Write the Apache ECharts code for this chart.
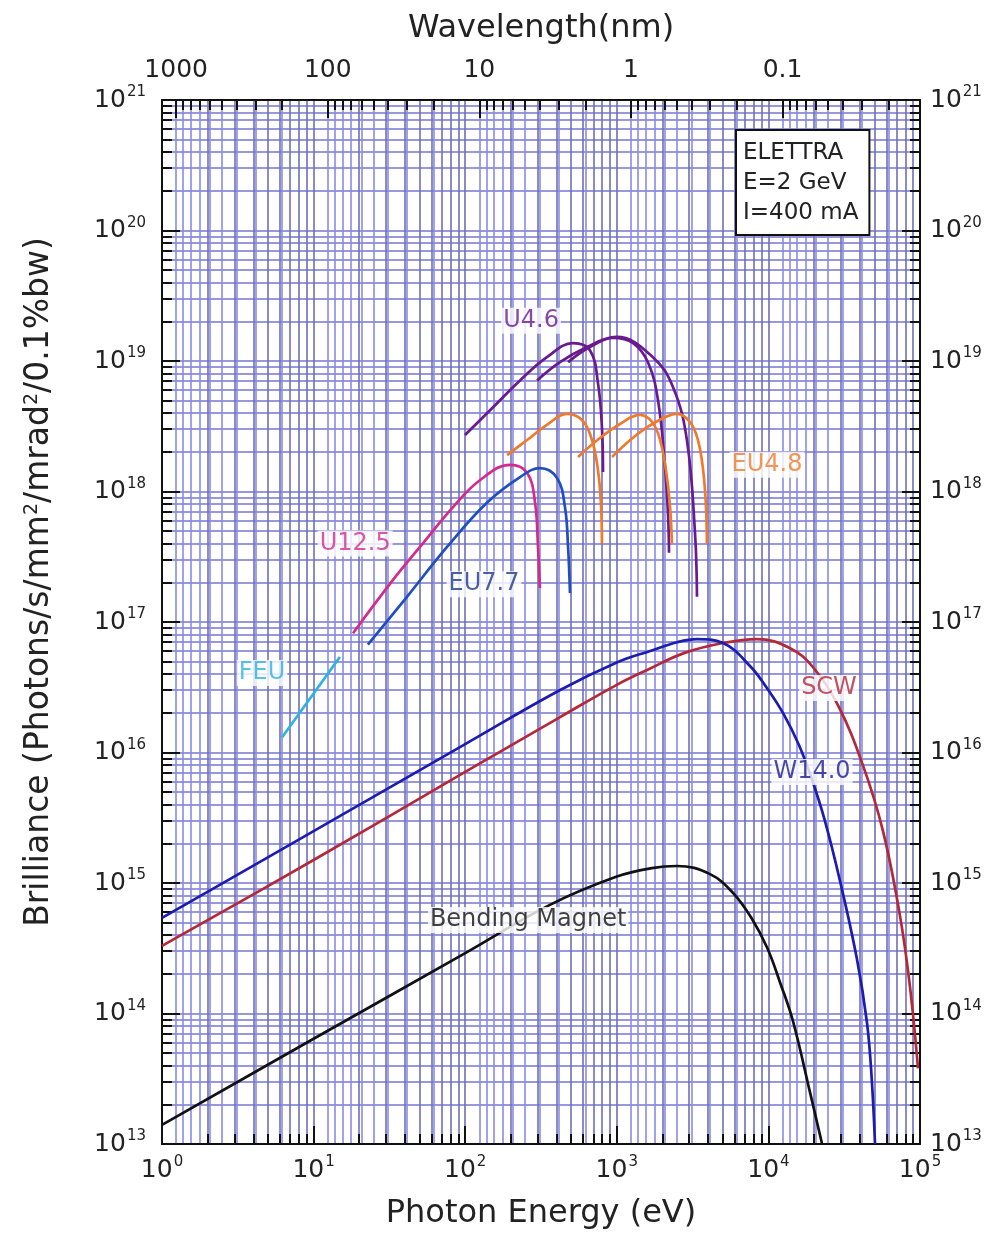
<!DOCTYPE html>
<html>
<head>
<meta charset="utf-8">
<title>ELETTRA brilliance</title>
<script src="https://cdn.jsdelivr.net/npm/echarts@6/dist/echarts.min.js"></script>
<style>
html, body { margin: 0; padding: 0; background: #fff; }
#main { width: 997px; height: 1242px; }
</style>
</head>
<body>
<div id="main"></div>
<script>
// photon energy (eV), brilliance
var bendingMagnet = [[1, 1.4e13], [10, 6.4e13], [100, 2.9e14], [362, 6.8e14], [1000, 1.12e15], [1700, 1.3e15], [2500, 1.35e15], [4120, 1.17e15], [5840, 8.4e14], [7800, 5.3e14], [9800, 3.2e14], [12000, 1.7e14], [14500, 8.8e13], [18800, 2.5e13], [22600, 1.0e13]];
var w140 = [[1, 5.4e14], [10, 2.5e15], [100, 1.16e16], [420, 3.0e16], [1000, 4.9e16], [1660, 6.0e16], [2500, 7.0e16], [3380, 7.4e16], [5020, 6.9e16], [7560, 4.6e16], [10000, 3.0e16], [12500, 2.0e16], [15850, 1.15e16], [19300, 6.3e15], [23400, 3.1e15], [29600, 1.05e15], [38400, 2.6e14], [44700, 8.5e13], [48000, 3.2e13], [50500, 1.0e13]];
var scw = [[1, 3.3e14], [10, 1.5e15], [100, 7.1e15], [420, 1.86e16], [1000, 3.3e16], [1660, 4.4e16], [2800, 5.8e16], [5020, 6.9e16], [8400, 7.4e16], [13900, 6.3e16], [19700, 4.5e16], [28800, 2.3e16], [42000, 8.0e15], [57000, 2.5e15], [73800, 5.6e14], [85900, 1.6e14], [97000, 3.8e13]];
var feu = [[6.2, 1.31e16], [14.9, 5.4e16]];
var u125 = [[18.2, 8.2e16], [33.4, 2.1e17], [50.3, 3.76e17], [83.1, 7.6e17], [125, 1.22e18], [198, 1.6e18], [256, 1.39e18], [289, 8.2e17], [302, 3.76e17], [311, 1.82e17]];
var eu77 = [[22.8, 6.7e16], [41.3, 1.56e17], [75.9, 3.76e17], [139, 8.2e17], [230, 1.29e18], [311, 1.51e18], [403, 1.27e18], [455, 7.6e17], [477, 3.76e17], [491, 1.67e17]];
var u46a = [[99.7, 2.71e18], [152, 4.4e18], [230, 7.1e18], [346, 1.07e19], [514, 1.37e19], [665, 1.21e19], [751, 6.8e18], [798, 3.1e18], [811, 1.41e18]];
var u46b = [[298, 7.1e18], [422, 9.8e18], [636, 1.28e19], [944, 1.5e19], [1280, 1.37e19], [1610, 9.7e18], [1870, 5.0e18], [2080, 1.54e18], [2180, 6.4e17], [2210, 3.4e17]];
var u46c = [[477, 9.8e18], [665, 1.28e19], [1000, 1.53e19], [1730, 1.07e19], [2350, 6.3e18], [2900, 2.48e18], [3280, 4.8e17], [3380, 1.56e17]];
var eu48a = [[189, 1.9e18], [256, 2.48e18], [346, 3.24e18], [469, 3.93e18], [589, 3.53e18], [686, 2.48e18], [751, 1.46e18], [787, 7.9e17], [798, 4.0e17]];
var eu48b = [[555, 1.84e18], [774, 2.57e18], [1050, 3.29e18], [1420, 3.86e18], [1710, 3.41e18], [1930, 2.48e18], [2110, 1.46e18], [2240, 7.9e17], [2310, 4.0e17]];
var eu48c = [[930, 1.84e18], [1320, 2.66e18], [1810, 3.41e18], [2500, 3.93e18], [3040, 3.41e18], [3430, 2.48e18], [3710, 1.46e18], [3870, 7.9e17], [3930, 4.0e17]];

// where each curve name sits, in eV / brilliance
var curveLabels = [
  ['U4.6', 272, 2.03e19], ['EU4.8', 9790, 1.6e18], ['U12.5', 18.8, 4.0e17], ['EU7.7', 133, 1.95e17],
  ['FEU', 4.57, 4.06e16], ['SCW', 25100, 3.12e16], ['W14.0', 19400, 7.1e15], ['Bending Magnet', 260, 5.2e14]
];

// axes
var energyDecades = [1, 10, 100, 1000, 10000, 100000];
var wavelengthDecades = [1000, 100, 10, 1, 0.1];
var brillianceDecades = [1e13, 1e14, 1e15, 1e16, 1e17, 1e18, 1e19, 1e20, 1e21];
var minorSteps = [2, 3, 4, 5, 6, 7, 8, 9];
var hc = 1239.84; // eV*nm

var colors = {
  'Bending Magnet': '#111111', 'W14.0': '#1c1cb0', 'SCW': '#b42838', 'FEU': '#2eb2e2',
  'U12.5': '#d42a8e', 'EU7.7': '#1f4fbf', 'U4.6': '#6a1a8e', 'EU4.8': '#f07a2c'
};
var labelColors = { 'W14.0': '#1c1c90', 'EU7.7': '#1f3a8a', 'Bending Magnet': '#111111' };

function minors(bases, lo, hi) {
  var out = [];
  bases.forEach(function (b) {
    minorSteps.forEach(function (m) {
      var v = Number((b * m).toPrecision(3));
      if (v > lo && v < hi) out.push(v);
    });
  });
  return out;
}
var energyMinor = minors([1, 10, 100, 1000, 10000], 1, 1e5);
var lamMin = hc / 1e5, lamMax = hc / 1;
var wavelengthMinor = minors([0.01, 0.1, 1, 10, 100, 1000], lamMin, lamMax);
var brillianceMinor = minors(brillianceDecades.slice(0, 8), 1e13, 1e21);
// keep the top decade a hair inside the extent so its label survives rounding
var brillianceLabelValues = brillianceDecades.map(function (v, i, a) {
  return i === a.length - 1 ? v * 0.99999 : v;
});

var FONT = 'DejaVu Sans';
var supRich = {
  b: { fontSize: 25, fontFamily: FONT, color: '#222', lineHeight: 30 },
  s: { fontSize: 15, fontFamily: FONT, color: '#222', verticalAlign: 'top', lineHeight: 15, padding: [0, 0, 9, 1] }
};
function pow10(v) {
  return '{b|10}{s|' + Math.round(Math.log10(v)) + '}';
}
var frame = { show: true, lineStyle: { color: '#111', width: 2 } };
var noLine = { show: false };
var grid1 = '#7070b4', grid2 = '#8a8ae8', grid3 = '#7676d0';

function axis(o) {
  var a = {
    type: 'log', gridIndex: 0, axisLine: noLine,
    axisLabel: { show: false }, splitLine: { show: false }
  };
  for (var k in o) a[k] = o[k];
  return a;
}
function ticks(values, len) {
  return { show: true, inside: true, length: len, customValues: values, lineStyle: { color: '#111', width: 2 } };
}
function split(color, w) {
  return { show: true, lineStyle: { color: color, width: w } };
}

var chart = echarts.init(document.getElementById('main'));

function curve(name, data) {
  return {
    name: name, type: 'line', data: data, xAxisIndex: 0, yAxisIndex: 0,
    symbol: 'none', smooth: 0.4, silent: true, z: 3,
    lineStyle: { color: colors[name], width: 2.7 }, itemStyle: { color: colors[name] }
  };
}

var option = {
  animation: false,
  backgroundColor: '#fff',
  grid: { left: 162, top: 100, width: 758, height: 1044, outerBoundsMode: 'none' },
  xAxis: [
    axis({
      min: 1, max: 1e5, position: 'bottom', axisLine: frame,
      axisTick: ticks(energyDecades, 18),
      axisLabel: { show: true, customValues: energyDecades, formatter: pow10, rich: supRich, margin: 11 },
      splitLine: split(grid1, 1.6),
      name: 'Photon Energy (eV)', nameLocation: 'middle', nameGap: 54,
      nameTextStyle: { fontSize: 32, fontFamily: FONT, color: '#222' }
    }),
    axis({ min: 1, max: 1e5, position: 'bottom', axisTick: ticks(energyMinor, 10), splitLine: split(grid1, 1.6) }),
    axis({
      min: lamMin, max: lamMax, inverse: true, position: 'top', axisLine: frame,
      axisTick: ticks(wavelengthDecades, 18),
      axisLabel: {
        show: true, customValues: wavelengthDecades, margin: 17,
        fontSize: 25, fontFamily: FONT, color: '#222',
        formatter: function (v) { return String(Number(v.toPrecision(3))); }
      },
      splitLine: split(grid2, 1.6),
      name: 'Wavelength(nm)', nameLocation: 'middle', nameGap: 55,
      nameTextStyle: { fontSize: 32, fontFamily: FONT, color: '#222' }
    }),
    axis({ min: lamMin, max: lamMax, inverse: true, position: 'top', axisTick: ticks(wavelengthMinor, 10), splitLine: split(grid2, 1.6) })
  ],
  yAxis: [
    axis({
      min: 1e13, max: 1e21, position: 'left', axisLine: frame,
      axisTick: ticks(brillianceDecades, 18),
      axisLabel: { show: true, customValues: brillianceLabelValues, formatter: pow10, rich: supRich, margin: 16, showMaxLabel: true },
      splitLine: split(grid3, 1.6),
      name: 'Brilliance (Photons/s/mm{s|2}/mrad{s|2}/0.1%bw)', nameLocation: 'middle', nameGap: 106,
      nameTextStyle: {
        fontSize: 33, fontFamily: FONT, color: '#222', padding: [0, 0, 0, 80],
        rich: { s: { fontSize: 19, fontFamily: FONT, color: '#222', verticalAlign: 'top', padding: [0, 0, 12, 0] } }
      }
    }),
    axis({ min: 1e13, max: 1e21, position: 'left', axisTick: ticks(brillianceMinor, 10), splitLine: split(grid3, 1.6) }),
    axis({
      min: 1e13, max: 1e21, position: 'right', axisLine: frame,
      axisTick: ticks(brillianceDecades, 18),
      axisLabel: { show: true, customValues: brillianceLabelValues, formatter: pow10, rich: supRich, margin: 10, showMaxLabel: true }
    }),
    axis({ min: 1e13, max: 1e21, position: 'right', axisTick: ticks(brillianceMinor, 10) })
  ],
  series: [
    curve('Bending Magnet', bendingMagnet),
    curve('SCW', scw),
    curve('W14.0', w140),
    curve('FEU', feu),
    curve('U12.5', u125),
    curve('EU7.7', eu77),
    curve('U4.6', u46a), curve('U4.6', u46b), curve('U4.6', u46c),
    curve('EU4.8', eu48a), curve('EU4.8', eu48b), curve('EU4.8', eu48c),
    {
      type: 'scatter', xAxisIndex: 0, yAxisIndex: 0, silent: true, z: 10,
      symbolSize: 1, itemStyle: { color: 'transparent' },
      data: curveLabels.map(function (d) {
        return {
          name: d[0], value: [d[1], d[2]],
          label: {
            show: true, position: 'inside', formatter: '{b}',
            fontSize: 24, fontFamily: FONT, color: labelColors[d[0]] || colors[d[0]],
            backgroundColor: '#fff', padding: [1, 2]
          }
        };
      })
    }
  ],
  graphic: [{
    type: 'text', left: 735, top: 129, z: 20,
    style: {
      text: 'ELETTRA\nE=2 GeV\nI=400 mA', font: '23px "DejaVu Sans"', fill: '#222',
      lineHeight: 30, backgroundColor: '#fff', borderColor: '#111', borderWidth: 2,
      padding: [7, 10, 6, 6]
    }
  }]
};
chart.setOption(option);
</script>
</body>
</html>
